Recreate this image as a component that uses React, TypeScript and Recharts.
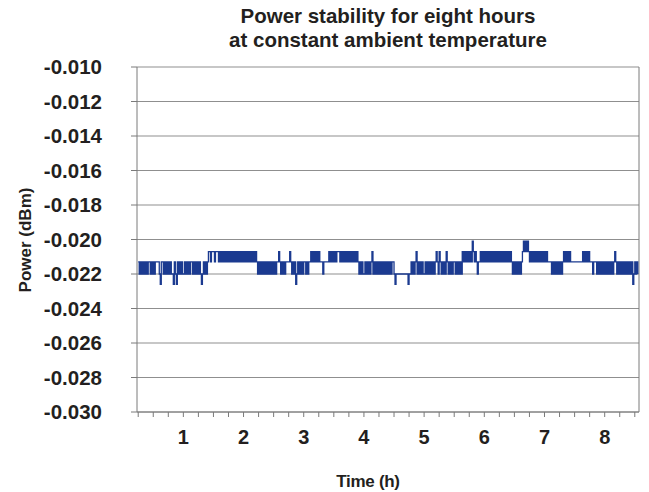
import React from 'react';
import { CartesianGrid, Line, LineChart, ReferenceLine, XAxis, YAxis } from 'recharts';

// quantised power readings (dBm), one character per minute -> index into powerLevels
const powerLevels = [-0.0201, -0.0207, -0.0213, -0.022, -0.0226];
const firstSampleHour = 0.25;
const samplesPerHour = 60;

const traceByHour = [
	['2323232323', '22', '323232', '222', '342', '2323232323', '34234', '232323'],
	['323232322323232323', '4', '323232', '112111211121', '21212121212121212121212'],
	['12121212121212', '3232323232323232323', '22', '1', '232323', '2222', '1', '23232', '4', '3232323'],
	['2232322', '1212121212', '22322222', '12121212', '11', '1212121212121212', '1212', '32323'],
	['32323232', '1', '32323232323232323232', '23', '4', '333333333333', '4', '33', '23232', '1', '3232323'],
	['323232323232', '1', '23', '1', '232323', '1', '232323223232323', '1212121212', '0', '1212', '32', '21212'],
	['121212121212121212121212121', '23232323232', '1', '01010', '1212121212121212'],
	['1212', '222', '323232323232', '12121212', '22222222222', '1212121', '222322232', '323232'],
	['3232323232', '1', '23232323232323232', '4', '32323'],
];

const yTicks = [-0.03, -0.028, -0.026, -0.024, -0.022, -0.02, -0.018, -0.016, -0.014, -0.012, -0.01];
const xTicks = [
	0.25, 0.5, 0.75, 1, 1.25, 1.5, 1.75, 2, 2.25, 2.5, 2.75, 3, 3.25, 3.5, 3.75, 4, 4.25, 4.5, 4.75, 5,
	5.25, 5.5, 5.75, 6, 6.25, 6.5, 6.75, 7, 7.25, 7.5, 7.75, 8, 8.25, 8.5,
];
const xDomain = [0.23, 8.57];

const data = traceByHour
	.flat()
	.join('')
	.split('')
	.map((c, i) => ({ hour: firstSampleHour + i / samplesPerHour, power: powerLevels[Number(c)] }));

const font = '"Liberation Sans", Arial, Helvetica, sans-serif';
const textColor = '#231f20';
const axisColor = '#7a7a7a';

const App = () => {
	return (
		<div style={{ position: 'absolute', left: 0, top: 0, width: 649, height: 492, background: '#fff' }}>
			<LineChart width={649} height={492} data={data} margin={{ top: 67, right: 10, bottom: 0, left: 0 }}>
				<CartesianGrid vertical={false} stroke="#8f8f8f" />
				<XAxis
					dataKey="hour"
					type="number"
					domain={xDomain}
					ticks={xTicks}
					height={80}
					tickSize={5}
					tickMargin={13}
					stroke={axisColor}
					tickFormatter={(v: number) => (Math.abs(v - Math.round(v)) < 1e-6 ? String(Math.round(v)) : '')}
					tick={{ fontSize: 20, fontWeight: 'bold', fill: textColor, fontFamily: font }}
					interval={0}
				/>
				<YAxis
					type="number"
					domain={[-0.03, -0.01]}
					ticks={yTicks}
					width={137}
					tickSize={6}
					tickMargin={29}
					stroke={axisColor}
					tickFormatter={(v: number) => v.toFixed(3)}
					tick={{ fontSize: 20.5, fontWeight: 'bold', fill: textColor, fontFamily: font }}
					interval={0}
				/>
				<ReferenceLine x={xDomain[1]} stroke={axisColor} />
				<Line
					dataKey="power"
					type="stepAfter"
					stroke="#1b3a90"
					strokeWidth={1.3}
					dot={false}
					isAnimationActive={false}
				/>
			</LineChart>
			<svg
				width={649}
				height={492}
				style={{ position: 'absolute', left: 0, top: 0, pointerEvents: 'none' }}
				fontFamily={font}
				fontWeight="bold"
				fill={textColor}
			>
				<text x={388} y={23} textAnchor="middle" fontSize={20.5}>
					Power stability for eight hours
				</text>
				<text x={388} y={47} textAnchor="middle" fontSize={20.5}>
					at constant ambient temperature
				</text>
				<text transform="translate(31,240) rotate(-90)" textAnchor="middle" fontSize={17}>
					Power (dBm)
				</text>
				<text x={368} y={487} textAnchor="middle" fontSize={17} letterSpacing={-0.3}>
					Time (h)
				</text>
			</svg>
		</div>
	);
};

export default App;
